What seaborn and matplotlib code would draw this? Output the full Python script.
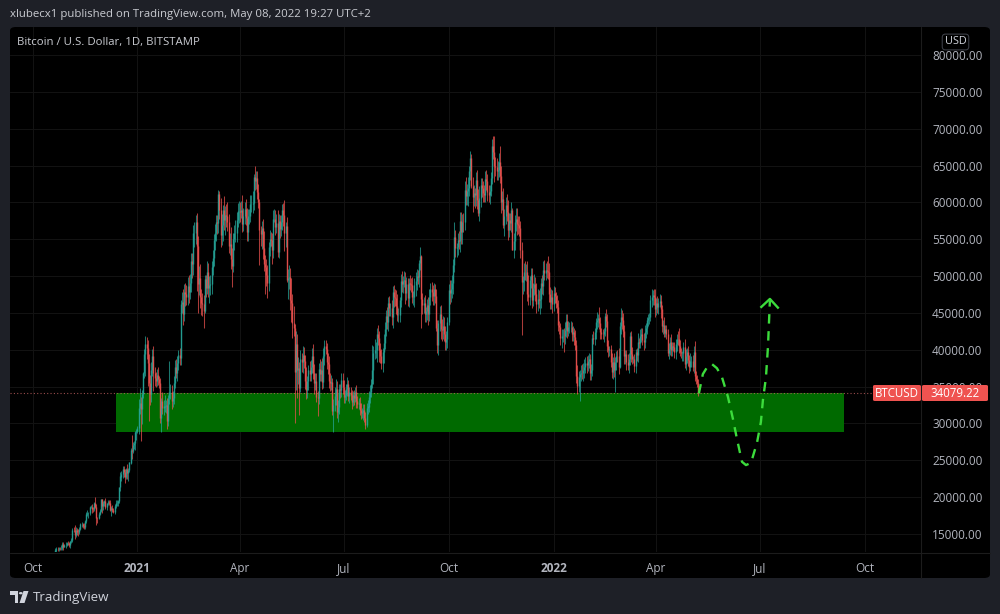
import numpy as np
import pandas as pd
import matplotlib
matplotlib.use("Agg")
import matplotlib.pyplot as plt
import matplotlib.dates as mdates
from matplotlib.patches import FancyBboxPatch, Rectangle, Circle, Polygon
from matplotlib.lines import Line2D
import seaborn as sns

# ---------------- data (daily closes in thousands of USD) ----------------
start_date = "2020-10-15"
first_open_k = 11.43
close_2020_10 = [11.5, 11.3, 11.4, 11.5, 11.75, 11.9, 12.8, 12.97, 12.93, 13.1, 13.03, 13.07, 13.65, 13.28, 13.46, 13.56, 13.8]
close_2020_11 = [13.74, 13.55, 14.0, 14.15, 15.58, 15.57, 14.83, 15.48, 15.33, 15.3, 15.7, 16.3, 16.33, 16.07, 15.96, 16.73, 17.68, 17.8, 17.82, 18.66,
                 18.7, 18.42, 18.37, 19.16, 18.72, 17.15, 17.14, 17.72, 18.18, 19.7]
close_2020_12 = [18.8, 19.2, 19.45, 18.7, 19.15, 19.36, 19.17, 18.32, 18.55, 18.26, 18.04, 18.8, 19.17, 19.27, 19.43, 21.34, 22.8, 23.1, 23.87, 23.47,
                 22.7, 23.82, 23.24, 23.7, 24.7, 26.44, 26.24, 27.08, 27.36, 28.84, 29.0]
close_2021_01 = [29.37, 32.13, 32.78, 31.97, 33.99, 36.82, 39.37, 40.8, 40.25, 38.2, 35.5, 33.95, 37.3, 39.15, 36.8, 36.1, 35.8, 36.6, 36.0, 35.5,
                 30.8, 33.0, 32.1, 32.3, 32.4, 32.5, 30.4, 33.4, 34.3, 34.3, 33.1]
close_2021_02 = [33.5, 35.5, 37.7, 36.9, 38.2, 39.3, 38.9, 46.2, 46.5, 44.9, 47.9, 47.5, 47.1, 48.7, 47.9, 49.1, 52.1, 51.6, 55.9, 55.9,
                 57.4, 54.1, 48.9, 49.7, 47.1, 46.3, 46.2, 45.2]
close_2021_03 = [49.6, 48.4, 50.5, 48.4, 48.8, 48.9, 51.2, 52.4, 54.9, 55.9, 57.3, 57.2, 61.2, 59.0, 55.6, 56.9, 58.9, 57.6, 58.3, 58.1,
                 57.4, 54.1, 54.3, 52.3, 51.3, 55.0, 55.8, 55.8, 57.6, 58.8, 58.8]
close_2021_04 = [58.7, 59.0, 57.1, 58.2, 59.1, 57.9, 56.0, 58.1, 58.1, 59.8, 59.8, 59.9, 63.5, 62.9, 63.3, 61.4, 60.1, 56.2, 55.7, 56.5,
                 53.8, 51.7, 51.2, 50.1, 49.0, 54.0, 55.0, 54.9, 53.6, 57.8]
close_2021_05 = [57.8, 56.6, 57.2, 53.2, 57.5, 56.4, 57.4, 58.9, 58.3, 55.9, 56.8, 49.5, 49.7, 49.9, 46.8, 46.4, 43.6, 42.9, 37.0, 40.8,
                 37.3, 37.5, 34.8, 38.8, 38.4, 39.3, 38.5, 35.7, 34.6, 35.7, 37.3]
close_2021_06 = [36.7, 37.6, 39.2, 36.9, 35.5, 35.8, 33.6, 33.4, 37.4, 36.7, 37.3, 35.6, 39.1, 40.5, 40.1, 38.3, 38.1, 35.8, 35.5, 35.6,
                 31.7, 32.5, 33.7, 34.7, 31.6, 32.2, 34.7, 34.5, 35.9, 35.0]
close_2021_07 = [33.6, 33.8, 34.7, 35.3, 33.7, 34.2, 33.9, 32.9, 33.8, 33.5, 34.3, 33.1, 32.7, 32.8, 31.8, 31.4, 31.5, 31.8, 30.8, 29.8,
                 32.1, 32.3, 33.6, 34.3, 35.4, 37.3, 39.5, 40.0, 40.0, 42.2, 41.6]
close_2021_08 = [39.9, 39.2, 38.2, 39.7, 40.9, 42.8, 44.6, 43.8, 46.3, 45.6, 45.6, 44.4, 47.8, 47.1, 47.0, 45.9, 44.7, 44.7, 46.8, 49.3,
                 48.9, 49.3, 49.5, 47.7, 48.9, 47.0, 49.1, 48.9, 48.8, 47.1, 47.2]
close_2021_09 = [48.8, 49.3, 50.0, 49.9, 51.8, 52.7, 46.9, 46.1, 46.4, 44.9, 45.2, 46.1, 44.9, 47.1, 48.2, 47.8, 47.3, 48.3, 47.3, 43.0,
                 40.7, 43.6, 44.9, 42.8, 42.7, 43.2, 42.2, 41.0, 41.5, 43.8]
close_2021_10 = [48.1, 47.7, 48.2, 49.1, 51.5, 55.3, 53.8, 53.9, 54.9, 54.7, 57.5, 56.0, 57.4, 57.3, 61.7, 60.9, 61.5, 62.0, 64.3, 66.0,
                 62.2, 60.7, 61.3, 61.0, 63.1, 60.3, 58.5, 60.6, 62.3, 61.9, 61.3]
close_2021_11 = [61.0, 63.2, 62.9, 61.4, 61.0, 61.5, 63.3, 67.6, 66.9, 64.9, 64.8, 64.2, 64.4, 65.5, 63.6, 60.1, 60.4, 56.9, 58.1, 59.7,
                 58.7, 56.3, 57.6, 57.2, 58.9, 53.6, 54.8, 57.3, 57.8, 57.0]
close_2021_12 = [56.9, 56.5, 53.6, 49.2, 49.4, 50.6, 50.5, 50.6, 47.6, 47.1, 49.4, 50.1, 46.7, 48.4, 48.9, 47.6, 46.2, 46.9, 46.7, 46.9,
                 49.0, 48.6, 50.8, 50.4, 50.8, 50.7, 50.6, 47.5, 46.5, 47.1, 46.2]
close_2022_01 = [47.7, 47.3, 46.4, 45.8, 43.4, 43.1, 41.6, 41.8, 41.9, 41.8, 42.7, 43.9, 42.6, 43.1, 43.1, 43.1, 42.2, 42.4, 41.7, 40.7,
                 36.5, 35.1, 36.3, 36.7, 36.9, 36.8, 37.2, 37.7, 38.2, 37.9, 38.5]
close_2022_02 = [38.7, 36.9, 37.3, 41.6, 41.4, 42.4, 43.8, 44.1, 44.3, 43.6, 42.4, 42.2, 42.1, 42.6, 44.6, 43.9, 40.5, 40.0, 40.1, 38.4,
                 37.0, 38.3, 37.3, 38.3, 39.2, 39.1, 37.7, 43.2]
close_2022_03 = [44.4, 44.0, 42.5, 39.1, 39.4, 38.4, 37.9, 38.7, 41.9, 39.4, 38.8, 38.8, 37.8, 39.7, 39.3, 41.1, 40.9, 41.8, 42.2, 41.3,
                 41.0, 42.4, 42.9, 44.0, 44.3, 44.5, 46.8, 47.1, 47.4, 47.1, 45.5]
close_2022_04 = [46.3, 45.8, 46.4, 46.6, 45.5, 43.2, 43.4, 42.3, 42.8, 42.2, 39.5, 40.1, 41.1, 39.9, 40.5, 40.4, 39.7, 40.8, 41.5, 41.4,
                 40.5, 39.7, 39.5, 39.5, 40.4, 38.1, 39.2, 39.7, 38.6, 37.7]
close_2022_05 = [38.5, 38.5, 37.7, 39.7, 36.5, 36.0, 35.5, 34.07922]

# upper / lower wick lengths beyond the candle body, in hundreds of USD
up_2020 = [2,1,1,2,2,1,3,2,2,1,1,4,2,2,2,3,1,
           3,2,1,3,2,4,7,4,3,3,2,2,3,2,4,1,3,4,2,2,3,4,3,2,8,4,2,3,2,1,
           1,3,2,4,1,3,3,5,3,4,3,3,4,3,2,1,6,5,4,4,4,1,7,3,1,2,20,4,3,1,2]
dn_2020 = [1,2,1,2,1,2,1,2,3,2,2,2,3,4,1,3,2,
           3,3,4,2,2,3,5,2,5,6,3,2,3,3,3,3,2,3,6,3,2,6,4,3,2,9,6,1,2,2,
           9,6,4,3,4,2,2,2,9,3,2,3,3,4,5,2,5,6,5,8,8,2,8,10,3,2,10,2,6,10,11]
up_2021a = [3,12,20,8,6,1,8,11,9,11,12,11,10,10,14,9,9,8,10,5,6,5,12,9,14,7,10,4,42,10,9,
            9,10,9,10,10,7,10,6,14,17,10,12,13,12,14,12,10,10,10,15,9,12,13,16,19,12,14,12,
            6,5,16,13,12,13,8,12,8,12,10,10,5,4,16,15,7,20,12,15,20,10,15,23,15,8,11,18,11,11,14,
            13,12,20,10,9,14,14,10,10,12,12,16,3,14,10,10,11,3,6,10,12,23,12,11,14,6,13,10,9,12,
            13,12,12,18,9,8,9,9,10,20,6,12,12,16,12,30,12,23,6,17,14,15,8,11,8,12,11,8,20,8,6,
            12,10,10,16,12,11,10,8,8,14,12,16,12,8,8,8,12,10,11,10,5,8,12,13,10,10,6,7,10,9]
dn_2021a = [3,8,8,43,21,6,6,29,15,31,51,14,10,8,24,10,8,7,8,7,7,20,8,10,8,10,12,8,8,10,12,
            9,9,7,8,12,9,10,10,12,15,10,15,10,10,16,10,12,18,14,20,15,61,39,15,14,16,16,22,
            2,12,9,13,20,14,13,10,10,14,11,15,13,12,17,14,21,13,20,15,13,10,12,14,28,8,15,12,12,10,16,
            13,8,11,10,12,10,12,13,10,8,11,12,10,12,11,10,9,47,16,20,15,10,37,15,20,10,13,8,19,11,
            5,10,8,6,8,12,10,12,15,25,20,3,26,15,14,26,20,10,70,25,38,20,37,5,14,15,10,10,13,12,12,
            10,10,8,9,15,10,7,24,8,9,10,9,8,12,7,9,14,10,11,10,5,29,8,12,8,14,9,10,9,10]
up_2021b = [9,8,7,10,6,7,8,7,6,7,6,9,6,7,8,10,6,9,8,8,7,9,8,9,6,33,10,14,10,8,12,
            10,10,9,6,12,10,8,12,8,10,8,12,9,10,12,11,16,10,4,10,14,7,12,10,10,9,6,10,8,11,8,
            10,12,10,8,4,12,2,8,8,10,6,8,10,12,8,10,10,8,6,10,10,4,10,12,14,14,12,10,10,7,
            8,14,12,10,8,20,10,6,10,12,12,12,10,12,12,17,10,15,6,10,6,12,11,7,10,13,15,16,10,10,10,
            10,10,12,10,10,8,8,10,14,21,12,12,12,12,21,14,12,15,10,10,14,16,10,10,12,4,10,10,15,15,
            12,12,10,10,6,12,15,10,14,25,6,10,10,6,14,10,14,14,12,15,8,12,12,14,10,12,20,12,10,12,10]
dn_2021b = [8,8,6,10,7,9,7,10,5,10,6,10,6,8,6,8,6,10,6,5,3,8,8,8,7,6,19,8,11,17,10,
            15,10,8,12,15,8,10,10,13,10,10,10,14,13,10,10,8,9,10,10,10,12,8,15,10,10,12,8,9,8,10,
            14,15,12,10,14,10,39,12,11,12,12,12,15,10,10,12,12,12,10,5,11,14,10,14,15,12,10,10,10,12,
            5,15,12,12,15,10,12,12,10,10,14,16,16,13,10,12,12,20,12,12,2,20,12,18,15,12,4,10,12,12,12,
            10,10,12,12,10,12,6,8,10,21,12,12,12,10,10,15,12,4,15,10,12,14,10,10,12,1,12,12,12,14,
            12,10,12,72,16,14,10,12,10,10,10,10,10,8,10,10,12,10,10,18,12,10,12,10,10,10,10,10,10,10,12]
up_2022 = [10,8,6,10,10,5,5,10,9,10,10,10,10,8,6,8,6,8,6,10,6,14,8,5,10,12,10,10,8,10,8,
           8,7,8,6,10,6,5,10,6,15,8,6,6,4,4,9,10,8,4,6,12,7,12,7,6,7,12,6,
           12,10,10,8,5,5,10,8,5,6,10,4,6,4,6,12,5,10,8,8,10,10,7,5,6,5,6,11,7,8,11,
           7,10,6,10,8,6,6,10,6,6,6,8,6,10,6,6,6,6,6,10,15,8,5,3,6,10,9,6,8,7,
           10,6,8,8,15,6,6,5]
dn_2022 = [10,10,8,8,8,10,10,14,8,21,10,10,10,8,8,7,10,10,10,8,10,11,8,33,10,8,10,10,8,10,8,
           10,10,10,8,6,8,10,10,10,8,10,8,7,10,8,8,8,10,8,8,8,10,10,30,10,8,10,2,
           10,12,8,10,10,12,7,10,8,10,8,6,8,10,8,9,6,6,8,6,10,8,8,8,8,8,6,10,10,10,10,
           8,8,10,6,12,8,10,6,6,8,3,8,8,8,8,6,8,10,10,8,10,6,6,10,10,6,8,10,8,8,
           6,8,6,8,7,6,5,4]

# support zone and projected path
zone_start, zone_end = "2020-12-13", "2022-09-13"
zone_low, zone_high = 28850.0, 34079.22
proj_days = [0, 3.5, 7.9, 11.5, 15.8, 20.2, 25.5, 29.9, 33.4, 37.8, 41.3, 45.7, 48.3, 51.0, 54.4, 56.2, 58.8, 60.6, 62.3]
proj_price = [34079, 36700, 37800, 38050, 37500, 36300, 33600, 30600, 27900, 24800, 24350, 24650, 26000, 27400, 30200, 33200, 36200, 40400, 46700]
arrow_days = [54.0, 62.3, 70.0]
arrow_price = [45700, 46900, 45600]

xtick_dates = ["2020-10-01", "2021-01-01", "2021-04-01", "2021-07-01", "2021-10-01", "2022-01-01", "2022-04-01", "2022-07-01", "2022-10-01"]
xtick_labels = ["Oct", "2021", "Apr", "Jul", "Oct", "2022", "Apr", "Jul", "Oct"]
ytick_values = [15000, 20000, 25000, 30000, 35000, 40000, 45000, 50000, 55000, 60000, 65000, 70000, 75000, 80000]
last_price = 34079.22

# ---------------- build table ----------------
closes_k = (close_2020_10 + close_2020_11 + close_2020_12 + close_2021_01 + close_2021_02 + close_2021_03 +
            close_2021_04 + close_2021_05 + close_2021_06 + close_2021_07 + close_2021_08 + close_2021_09 +
            close_2021_10 + close_2021_11 + close_2021_12 + close_2022_01 + close_2022_02 + close_2022_03 +
            close_2022_04 + close_2022_05)
up_w = np.array(up_2020 + up_2021a + up_2021b + up_2022, dtype=float)
dn_w = np.array(dn_2020 + dn_2021a + dn_2021b + dn_2022, dtype=float)
n = len(closes_k)
up_w, dn_w = up_w[:n], dn_w[:n]
dates = pd.date_range(start_date, periods=n, freq="D")
close = np.array(closes_k) * 1000
open_ = np.r_[first_open_k * 1000, close[:-1]]
high = np.maximum(open_, close) + up_w * 100
low = np.minimum(open_, close) - dn_w * 100
df = pd.DataFrame({"date": dates, "open": open_, "high": high, "low": low, "close": close})
df["x"] = mdates.date2num(df["date"])
df["up"] = df["close"] >= df["open"]

# ---------------- styling ----------------
sns.set_theme(style="dark")
plt.rcParams["font.family"] = ["Open Sans", "DejaVu Sans"]

BG = "#1e2027"
PANEL = "#000000"
TXT = "#b2b5be"
UP, DN = "#26a69a", "#ef5350"

W, H = 1000, 614
def fx(x): return x / W
def fy(y): return 1 - y / H

fig = plt.figure(figsize=(10, 6.14), dpi=100, facecolor=BG)
panel = FancyBboxPatch((fx(10), fy(578)), fx(980), (578 - 27) / H, boxstyle="round,pad=0,rounding_size=0.006",
                       transform=fig.transFigure, fc=PANEL, ec="none", zorder=-5)
fig.add_artist(panel)

ax = fig.add_axes([fx(10), fy(552), fx(911), (552 - 27) / H])
ax.patch.set_alpha(0)
for s in ax.spines.values():
    s.set_visible(False)

x0 = mdates.date2num(pd.Timestamp("2020-09-11 06:00"))
x1 = mdates.date2num(pd.Timestamp("2022-11-19 08:00"))
ax.set_xlim(x0, x1)
ax.set_ylim(12555, 83800)

# grid
xt = mdates.date2num(pd.to_datetime(xtick_dates))
for v in xt:
    ax.axvline(v, color="#121212", lw=0.8, zorder=0)
for v in ytick_values:
    ax.axhline(v, color="#121212", lw=0.8, zorder=0)

# support zone
zs, ze = mdates.date2num(pd.Timestamp(zone_start)), mdates.date2num(pd.Timestamp(zone_end))
ax.add_patch(Rectangle((zs, zone_low), ze - zs, zone_high - zone_low, fc="#006a00", ec="none", zorder=1))

# candles
cols = np.where(df["up"], UP, DN)
ax.vlines(df["x"], df["low"], df["high"], colors=cols, lw=0.75, alpha=0.72, zorder=3)
ax.vlines(df["x"], np.minimum(df["open"], df["close"]), np.maximum(df["open"], df["close"]) + 1,
          colors=cols, lw=1.05, alpha=0.78, zorder=3)

# last price dotted line
ax.axhline(last_price, color="#c06060", lw=0.8, ls=(0, (1, 2)), alpha=0.8, zorder=2)

# projection path (seaborn)
base = mdates.date2num(pd.Timestamp("2022-05-08 12:00"))
proj = pd.DataFrame({"x": base + np.array(proj_days), "price": proj_price})
sns.lineplot(data=proj, x="x", y="price", sort=False, estimator=None, color="#3cdc3c", lw=1.7, ax=ax, zorder=4)
ax.lines[-1].set_dashes([4, 3.2])
ax.plot(base + np.array(arrow_days), arrow_price, color="#3cdc3c", lw=1.7, solid_capstyle="butt", zorder=4)

# ticks
ax.set_xticks(xt)
ax.set_xticklabels(xtick_labels)
for lbl, t in zip(ax.get_xticklabels(), xtick_labels):
    if t.isdigit():
        lbl.set_fontweight("bold")
ax.yaxis.tick_right()
ax.set_yticks(ytick_values)
ax.set_yticklabels([f"{v:.2f}" for v in ytick_values])
ax.tick_params(axis="x", length=0, pad=7, labelsize=8.5, labelcolor=TXT)
ax.tick_params(axis="y", length=0, pad=8, labelsize=8.5, labelcolor=TXT)
ax.set_xlabel("")
ax.set_ylabel("")
ax.grid(False)

# separators
fig.add_artist(Line2D([fx(921), fx(921)], [fy(27), fy(578)], color="#1c1c1c", lw=0.8, zorder=5))
fig.add_artist(Line2D([fx(10), fx(990)], [fy(552.5), fy(552.5)], color="#1c1c1c", lw=0.8, zorder=5))

# texts
fig.text(fx(10), fy(15), "xlubecx1 published on TradingView.com, May 08, 2022 19:27 UTC+2",
         color="#c9cbd1", fontsize=8.2, ha="left", va="center")
fig.text(fx(17), fy(42), "Bitcoin / U.S. Dollar, 1D, BITSTAMP", color="#c9cbd1", fontsize=8.2, ha="left", va="center")
fig.text(fx(955.5), fy(42), "USD", color="#d1d4dc", fontsize=7.8, ha="center", va="center",
         bbox=dict(boxstyle="round,pad=0.22,rounding_size=0.3", fc=PANEL, ec="#3a3d45", lw=0.8), zorder=6)

# last price label
for (xa, xb, txt) in [(873, 921, "BTCUSD"), (922, 988, f"{last_price:.2f}")]:
    fig.add_artist(FancyBboxPatch((fx(xa), fy(401)), fx(xb - xa), 16 / H, boxstyle="round,pad=0,rounding_size=0.002",
                                  transform=fig.transFigure, fc="#ef5350", ec="none", zorder=6))
    fig.text(fx((xa + xb) / 2), fy(393.5), txt, color="white", fontsize=8.3, ha="center", va="center", zorder=7)

# footer logo
logo_c = "#d1d4dc"
fig.add_artist(Polygon([(fx(10), fy(591)), (fx(18), fy(591)), (fx(18), fy(603)), (fx(14.5), fy(603)), (fx(14.5), fy(595)), (fx(10), fy(595))],
                       closed=True, transform=fig.transFigure, fc=logo_c, ec="none", zorder=6))
fig.add_artist(Circle((fx(20.8), fy(593.2)), 1.9 / W, transform=fig.transFigure, fc=logo_c, ec="none", zorder=6))
fig.add_artist(Polygon([(fx(23.5), fy(591)), (fx(28.5), fy(591)), (fx(24.5), fy(603)), (fx(19.5), fy(603))],
                       closed=True, transform=fig.transFigure, fc=logo_c, ec="none", zorder=6))
fig.text(fx(33), fy(597), "TradingView", color=logo_c, fontsize=9.6, ha="left", va="center")

fig.savefig("out.png", dpi=100, facecolor=BG)
